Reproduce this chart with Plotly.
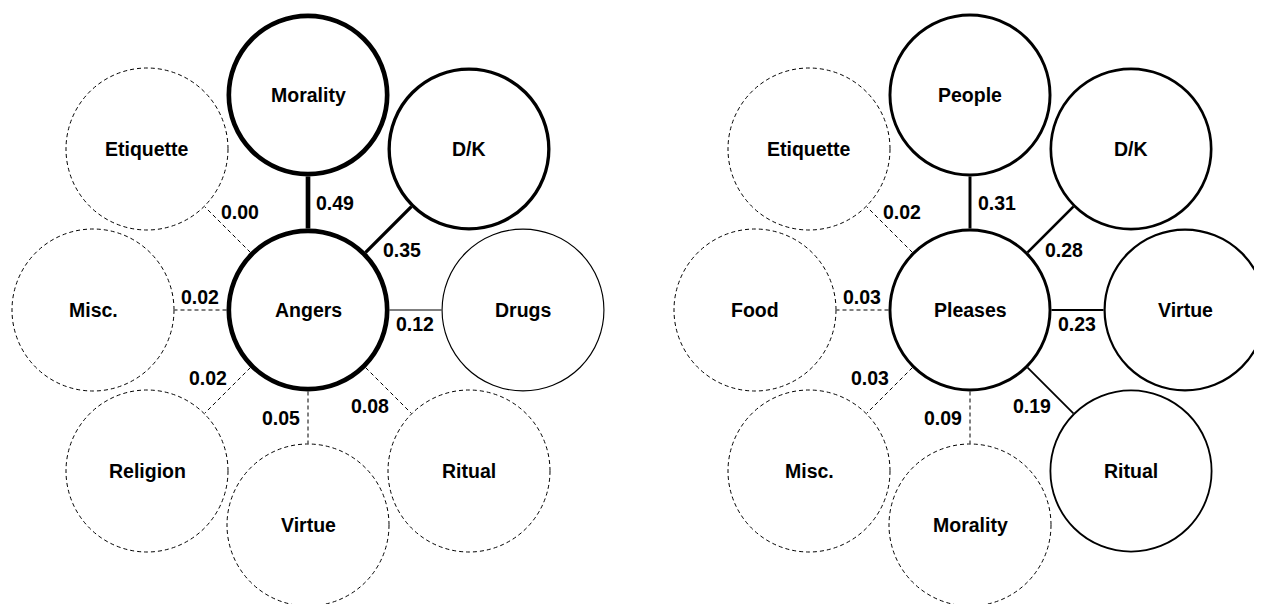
import math
import plotly.graph_objects as go

# ---------------- data ----------------
angers_center = "Angers"
angers_nodes = ["Morality", "D/K", "Drugs", "Ritual", "Virtue", "Religion", "Misc.", "Etiquette"]
angers_weights = [0.49, 0.35, 0.12, 0.08, 0.05, 0.02, 0.02, 0.00]

pleases_center = "Pleases"
pleases_nodes = ["People", "D/K", "Virtue", "Ritual", "Morality", "Misc.", "Food", "Etiquette"]
pleases_weights = [0.31, 0.28, 0.23, 0.19, 0.09, 0.03, 0.03, 0.02]

# ---------------- layout constants ----------------
W, H = 1262, 604
PAGE_OFFSET = 8     # default body margin of the html page
PANEL_CX = [308, 970]
CY = 310
ORTH = 215          # distance of N/E/S/W neighbours
DIAG = 161          # x/y offset of diagonal neighbours
R_OUT = 81.5        # outer visible radius of every circle
DASH_THRESHOLD = 0.10
WIDTH_SCALE = 9.5
DASH = "4px,3px"
# slots clockwise from the top
SLOT_DIRS = [(0, -1), (1, -1), (1, 0), (1, 1), (0, 1), (-1, 1), (-1, 0), (-1, -1)]
LABEL_OFFSETS = [(27, -107), (94, -60), (107, 14), (62, 96),
                 (-27, 108), (-100, 68), (-108, -13), (-68, -98)]
FONT = dict(family="Liberation Sans, Arial, sans-serif", size=19.5, color="black")


def line_style(w):
    if w < DASH_THRESHOLD:
        return 1.0, DASH
    return WIDTH_SCALE * w, "solid"


shapes = []
annotations = []


def circle(x, y, width, dash):
    r = R_OUT - width / 2.0
    shapes.append(dict(type="circle", xref="x", yref="y",
                       x0=x - r, x1=x + r, y0=y - r, y1=y + r,
                       line=dict(color="black", width=width, dash=dash),
                       fillcolor="white", layer="above"))


def label(x, y, text):
    annotations.append(dict(x=x, y=y, xref="x", yref="y", text="<b>" + text + "</b>",
                            showarrow=False, xanchor="center", yanchor="middle",
                            font=FONT))


def draw_panel(cx, center, nodes, weights):
    cy = CY
    center_w = max(line_style(w)[0] for w in weights)
    for (dx, dy), node, w, (lx, ly) in zip(SLOT_DIRS, nodes, weights, LABEL_OFFSETS):
        if dx != 0 and dy != 0:
            nx, ny = cx + dx * DIAG, cy + dy * DIAG
        else:
            nx, ny = cx + dx * ORTH, cy + dy * ORTH
        dist = math.hypot(nx - cx, ny - cy)
        ux, uy = (nx - cx) / dist, (ny - cy) / dist
        width, dash = line_style(w)
        shapes.append(dict(type="line", xref="x", yref="y",
                           x0=cx + ux * R_OUT, y0=cy + uy * R_OUT,
                           x1=cx + ux * (dist - R_OUT), y1=cy + uy * (dist - R_OUT),
                           line=dict(color="black", width=width, dash=dash)))
        circle(nx, ny, width, dash)
        label(nx, ny, node)
        label(cx + lx, cy + ly, f"{w:.2f}")
    circle(cx, cy, center_w, "solid")
    label(cx, cy, center)


draw_panel(PANEL_CX[0], angers_center, angers_nodes, angers_weights)
draw_panel(PANEL_CX[1], pleases_center, pleases_nodes, pleases_weights)

fig = go.Figure()
fig.add_trace(go.Scatter(x=[], y=[], mode="markers", showlegend=False))
fig.update_layout(
    width=W, height=H, autosize=False,
    margin=dict(l=0, r=0, t=0, b=0),
    paper_bgcolor="white", plot_bgcolor="white",
    xaxis=dict(range=[PAGE_OFFSET, W + PAGE_OFFSET], visible=False, fixedrange=True),
    yaxis=dict(range=[H + PAGE_OFFSET, PAGE_OFFSET], visible=False, fixedrange=True),
    shapes=shapes, annotations=annotations, showlegend=False,
)
fig.write_html("out.html")
